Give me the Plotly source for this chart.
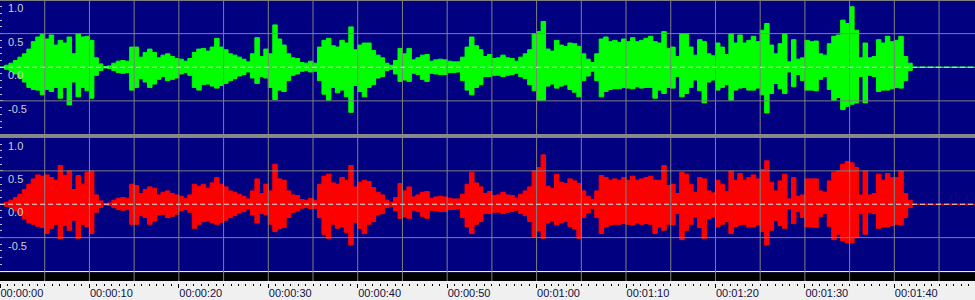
import plotly.graph_objects as go

# ---------------- data (envelope of each channel, 0.5 s bins) ----------------
bin_seconds = 0.5

green_upper = [
    0, 0.03, 0.06, 0.10, 0.15, 0.20, 0.27, 0.38, 0.45, 0.49,
    0.42, 0.48, 0.33, 0.40, 0.36, 0.45, 0.20, 0.50, 0.45, 0.46,
    0.40, 0.14, 0.05, 0.01, 0.02, 0.06, 0.09, 0.10, 0.09, 0.30,
    0.30, 0.15, 0.22, 0.27, 0.22, 0.14, 0.18, 0.20, 0.16, 0.13,
    0.12, 0.09, 0.13, 0.22, 0.27, 0.28, 0.24, 0.30, 0.43, 0.30,
    0.26, 0.20, 0.18, 0.15, 0.12, 0.08, 0.20, 0.44, 0.16, 0.27,
    0.20, 0.63, 0.42, 0.33, 0.20, 0.14, 0.13, 0.07, 0.06, 0.09,
    0.06, 0.30, 0.40, 0.43, 0.32, 0.30, 0.40, 0.36, 0.60, 0.26,
    0.33, 0.36, 0.36, 0.25, 0.18, 0.14, 0.06, 0.03, 0.10, 0.28,
    0.20, 0.28, 0.11, 0.14, 0.18, 0.19, 0.09, 0.11, 0.12, 0.11,
    0.09, 0.08, 0.08, 0.15, 0.30, 0.45, 0.32, 0.26, 0.16, 0.19,
    0.13, 0.14, 0.18, 0.14, 0.13, 0.09, 0.15, 0.20, 0.26, 0.50,
    0.53, 0.68, 0.27, 0.24, 0.40, 0.33, 0.31, 0.36, 0.35, 0.31,
    0.20, 0.12, 0.07, 0.20, 0.42, 0.45, 0.38, 0.40, 0.37, 0.42,
    0.38, 0.44, 0.38, 0.40, 0.43, 0.46, 0.38, 0.36, 0.53, 0.28,
    0.30, 0.16, 0.50, 0.50, 0.30, 0.18, 0.41, 0.38, 0.20, 0.17,
    0.36, 0.30, 0.19, 0.50, 0.36, 0.48, 0.36, 0.40, 0.46, 0.38,
    0.55, 0.65, 0.33, 0.20, 0.35, 0.50, 0.08, 0.41, 0.12, 0.14,
    0.40, 0.38, 0.39, 0.20, 0.18, 0.35, 0.46, 0.48, 0.70, 0.65,
    0.90, 0.55, 0.14, 0.36, 0.14, 0.16, 0.41, 0.36, 0.46, 0.38,
    0.40, 0.46, 0.16, 0.06, 0, 0, 0, 0, 0, 0,
    0, 0, 0, 0, 0, 0, 0, 0, 0,
]
green_lower = [
    0, -0.03, -0.05, -0.10, -0.16, -0.22, -0.30, -0.33, -0.34, -0.41,
    -0.33, -0.36, -0.30, -0.46, -0.30, -0.56, -0.22, -0.44, -0.30, -0.35,
    -0.46, -0.12, -0.05, -0.01, -0.02, -0.05, -0.08, -0.09, -0.08, -0.34,
    -0.30, -0.17, -0.22, -0.30, -0.25, -0.18, -0.14, -0.20, -0.18, -0.16,
    -0.10, -0.08, -0.12, -0.30, -0.34, -0.26, -0.25, -0.28, -0.31, -0.27,
    -0.24, -0.20, -0.17, -0.13, -0.11, -0.07, -0.16, -0.24, -0.14, -0.16,
    -0.30, -0.48, -0.34, -0.36, -0.20, -0.12, -0.10, -0.06, -0.05, -0.07,
    -0.06, -0.20, -0.40, -0.49, -0.30, -0.38, -0.34, -0.44, -0.67, -0.27,
    -0.36, -0.44, -0.30, -0.26, -0.16, -0.14, -0.05, -0.03, -0.10, -0.21,
    -0.19, -0.21, -0.09, -0.11, -0.18, -0.21, -0.09, -0.10, -0.11, -0.11,
    -0.08, -0.08, -0.07, -0.20, -0.34, -0.41, -0.30, -0.26, -0.14, -0.14,
    -0.12, -0.12, -0.14, -0.12, -0.11, -0.09, -0.14, -0.17, -0.26, -0.35,
    -0.49, -0.49, -0.28, -0.25, -0.31, -0.28, -0.26, -0.33, -0.37, -0.44,
    -0.20, -0.13, -0.06, -0.20, -0.44, -0.36, -0.33, -0.32, -0.32, -0.30,
    -0.31, -0.32, -0.29, -0.31, -0.30, -0.30, -0.46, -0.34, -0.39, -0.30,
    -0.31, -0.14, -0.44, -0.39, -0.30, -0.19, -0.35, -0.53, -0.22, -0.19,
    -0.34, -0.30, -0.26, -0.49, -0.34, -0.31, -0.30, -0.34, -0.34, -0.31,
    -0.41, -0.68, -0.39, -0.24, -0.32, -0.39, -0.07, -0.29, -0.11, -0.20,
    -0.34, -0.34, -0.35, -0.18, -0.14, -0.33, -0.49, -0.45, -0.63, -0.58,
    -0.55, -0.53, -0.14, -0.53, -0.12, -0.14, -0.36, -0.34, -0.34, -0.32,
    -0.30, -0.31, -0.20, -0.05, 0, 0, 0, 0, 0, 0,
    0, 0, 0, 0, 0, 0, 0, 0, 0,
]
red_upper = [
    0, 0.03, 0.06, 0.10, 0.15, 0.22, 0.30, 0.38, 0.44, 0.42,
    0.44, 0.40, 0.36, 0.58, 0.43, 0.50, 0.22, 0.43, 0.30, 0.48,
    0.50, 0.14, 0.05, 0.01, 0.02, 0.06, 0.09, 0.10, 0.09, 0.30,
    0.28, 0.16, 0.22, 0.26, 0.24, 0.14, 0.18, 0.20, 0.16, 0.14,
    0.12, 0.09, 0.14, 0.30, 0.27, 0.30, 0.24, 0.32, 0.40, 0.30,
    0.26, 0.20, 0.18, 0.15, 0.12, 0.08, 0.20, 0.38, 0.16, 0.30,
    0.20, 0.60, 0.38, 0.36, 0.20, 0.14, 0.13, 0.07, 0.06, 0.09,
    0.06, 0.30, 0.42, 0.45, 0.32, 0.30, 0.40, 0.36, 0.58, 0.26,
    0.33, 0.36, 0.34, 0.25, 0.18, 0.14, 0.06, 0.03, 0.10, 0.31,
    0.20, 0.26, 0.11, 0.14, 0.18, 0.19, 0.09, 0.11, 0.12, 0.11,
    0.09, 0.08, 0.08, 0.15, 0.30, 0.48, 0.32, 0.26, 0.16, 0.19,
    0.13, 0.14, 0.18, 0.14, 0.13, 0.09, 0.15, 0.20, 0.26, 0.50,
    0.55, 0.74, 0.27, 0.24, 0.45, 0.33, 0.31, 0.38, 0.35, 0.31,
    0.20, 0.12, 0.07, 0.20, 0.43, 0.40, 0.36, 0.38, 0.36, 0.40,
    0.36, 0.42, 0.36, 0.38, 0.40, 0.42, 0.36, 0.36, 0.58, 0.28,
    0.30, 0.16, 0.48, 0.45, 0.30, 0.18, 0.40, 0.38, 0.20, 0.17,
    0.36, 0.30, 0.19, 0.50, 0.36, 0.46, 0.36, 0.40, 0.44, 0.38,
    0.52, 0.65, 0.33, 0.20, 0.35, 0.45, 0.08, 0.40, 0.12, 0.14,
    0.38, 0.38, 0.38, 0.20, 0.18, 0.35, 0.48, 0.50, 0.60, 0.64,
    0.62, 0.55, 0.14, 0.50, 0.14, 0.16, 0.45, 0.36, 0.46, 0.40,
    0.40, 0.50, 0.16, 0.06, 0, 0, 0, 0, 0, 0,
    0, 0, 0, 0, 0, 0, 0, 0, 0,
]
red_lower = [
    0, -0.03, -0.05, -0.10, -0.15, -0.22, -0.28, -0.30, -0.33, -0.35,
    -0.44, -0.36, -0.30, -0.52, -0.32, -0.39, -0.24, -0.51, -0.30, -0.34,
    -0.44, -0.12, -0.05, -0.01, -0.02, -0.05, -0.08, -0.09, -0.08, -0.30,
    -0.30, -0.17, -0.20, -0.30, -0.25, -0.16, -0.15, -0.20, -0.18, -0.15,
    -0.10, -0.08, -0.12, -0.36, -0.30, -0.26, -0.25, -0.28, -0.30, -0.27,
    -0.24, -0.20, -0.17, -0.13, -0.11, -0.07, -0.16, -0.28, -0.14, -0.16,
    -0.30, -0.41, -0.36, -0.35, -0.20, -0.12, -0.10, -0.06, -0.05, -0.07,
    -0.06, -0.20, -0.45, -0.51, -0.30, -0.36, -0.34, -0.42, -0.61, -0.27,
    -0.36, -0.44, -0.30, -0.26, -0.16, -0.14, -0.05, -0.03, -0.10, -0.21,
    -0.19, -0.21, -0.09, -0.11, -0.18, -0.21, -0.09, -0.10, -0.11, -0.11,
    -0.08, -0.08, -0.07, -0.20, -0.34, -0.44, -0.30, -0.26, -0.14, -0.14,
    -0.12, -0.12, -0.14, -0.12, -0.11, -0.09, -0.14, -0.17, -0.26, -0.49,
    -0.40, -0.51, -0.28, -0.25, -0.31, -0.28, -0.26, -0.33, -0.37, -0.51,
    -0.20, -0.13, -0.06, -0.20, -0.44, -0.34, -0.31, -0.30, -0.30, -0.29,
    -0.30, -0.31, -0.28, -0.30, -0.29, -0.30, -0.44, -0.34, -0.39, -0.30,
    -0.31, -0.14, -0.53, -0.39, -0.30, -0.19, -0.35, -0.51, -0.22, -0.19,
    -0.34, -0.30, -0.26, -0.44, -0.34, -0.31, -0.30, -0.34, -0.34, -0.31,
    -0.41, -0.61, -0.39, -0.24, -0.32, -0.36, -0.07, -0.29, -0.11, -0.20,
    -0.34, -0.34, -0.35, -0.18, -0.14, -0.33, -0.53, -0.45, -0.55, -0.58,
    -0.58, -0.50, -0.14, -0.45, -0.12, -0.14, -0.36, -0.34, -0.34, -0.32,
    -0.30, -0.31, -0.20, -0.05, 0, 0, 0, 0, 0, 0,
    0, 0, 0, 0, 0, 0, 0, 0, 0,
]

time_ticks = [0, 10, 20, 30, 40, 50, 60, 70, 80, 90, 100]
time_labels = ["00:00:00", "00:00:10", "00:00:20", "00:00:30", "00:00:40", "00:00:50",
               "00:01:00", "00:01:10", "00:01:20", "00:01:30", "00:01:40"]
amp_ticks = [1.0, 0.5, 0.0, -0.5]
amp_labels = ["1.0", "0.5", "0.0", "-0.5"]

# bin start times (seconds)
t = [i * bin_seconds for i in range(len(green_upper))]

# ---------------- layout helpers ----------------
W, H = 975, 300
T_MAX = 109.02
NAVY = "#000080"
GRID = "#808080"


def py(px):
    return 1 - px / H


fig = go.Figure()

for (up, lo, color, xa, ya) in [
    (green_upper, green_lower, "#00FF00", "x", "y"),
    (red_upper, red_lower, "#FF0000", "x2", "y2"),
]:
    fig.add_trace(go.Scatter(x=t, y=up, mode="lines", line=dict(color=color, width=1, shape="hv"),
                             xaxis=xa, yaxis=ya, hoverinfo="skip", showlegend=False))
    fig.add_trace(go.Scatter(x=t, y=lo, mode="lines", line=dict(color=color, width=1, shape="hv"),
                             fill="tonexty", fillcolor=color,
                             xaxis=xa, yaxis=ya, hoverinfo="skip", showlegend=False))

# empty trace to create the time-ruler subplot
fig.add_trace(go.Scatter(x=[], y=[], xaxis="x3", yaxis="y3", showlegend=False))

xbase = dict(range=[0, T_MAX], showticklabels=False, ticks="", showgrid=False,
             zeroline=False, showline=False, fixedrange=True)

ybase = dict(range=[-1, 1], tickvals=amp_ticks, ticktext=amp_labels,
             ticks="inside", ticklen=3, tickcolor="#C0C0C0", tickwidth=1,
             ticklabelposition="inside bottom", ticklabelstandoff=5,
             tickfont=dict(family="Liberation Sans", size=11, color="#D0D0D0"),
             showgrid=False, zeroline=False, showline=False, layer="above traces",
             minor=dict(dtick=0.1, ticks="inside", ticklen=2, tickcolor="#C0C0C0"),
             fixedrange=True)

fig.update_layout(
    width=W, height=H,
    margin=dict(l=0, r=0, t=0, b=0),
    paper_bgcolor="#F0F0F0",
    plot_bgcolor=NAVY,
    xaxis=dict(**xbase, anchor="y", domain=[0, 1]),
    xaxis2=dict(**xbase, anchor="y2", domain=[0, 1]),
    xaxis3=dict(range=[0, T_MAX], domain=[0, 1], anchor="free", position=py(283),
                tickvals=time_ticks, ticktext=time_labels,
                ticks="outside", ticklen=4, tickcolor="#000000", tickwidth=1,
                ticklabelposition="outside right",
                tickfont=dict(family="Liberation Sans", size=11, color="#101040"),
                minor=dict(dtick=10 / 12, ticks="outside", ticklen=2, tickcolor="#000000"),
                showgrid=False, zeroline=False, showline=False, fixedrange=True),
    yaxis=dict(**ybase, domain=[py(134.5), 1], anchor="x"),
    yaxis2=dict(**ybase, domain=[py(271), py(137.5)], anchor="x2"),
    yaxis3=dict(range=[0, 1], domain=[py(281), py(272.3)], anchor="x3",
                showticklabels=False, ticks="", showgrid=False, zeroline=False,
                showline=False, fixedrange=True),
)

shapes = []
# black ruler strip
shapes.append(dict(type="rect", xref="x3 domain", yref="y3 domain", x0=0, x1=1, y0=0, y1=1,
                   fillcolor="#000000", line=dict(width=0), layer="below"))
# vertical grid lines every 5 s
for s in range(5, 110, 5):
    shapes.append(dict(type="line", xref="x", yref="paper", x0=s, x1=s, y0=py(281), y1=1,
                       line=dict(color=GRID, width=1), layer="above"))
# horizontal grid at +-0.5 and dashed zero line
for ya in ["y", "y2"]:
    for v in [0.5, -0.5]:
        shapes.append(dict(type="line", xref="paper", yref=ya, x0=0, x1=1, y0=v, y1=v,
                           line=dict(color=GRID, width=1), layer="above"))
    shapes.append(dict(type="line", xref="paper", yref=ya, x0=0, x1=1, y0=0, y1=0,
                       line=dict(color="#E0E0E0", width=1, dash="5px,3px"), layer="above"))
# separator between channels and top edge
shapes.append(dict(type="rect", xref="paper", yref="paper", x0=0, x1=1, y0=py(137.5), y1=py(134),
                   fillcolor="#888888", line=dict(width=0), layer="above"))
shapes.append(dict(type="rect", xref="paper", yref="paper", x0=0, x1=1, y0=py(1), y1=1,
                   fillcolor=GRID, line=dict(width=0), layer="above"))
fig.update_layout(shapes=shapes)

fig.write_html("out.html")
